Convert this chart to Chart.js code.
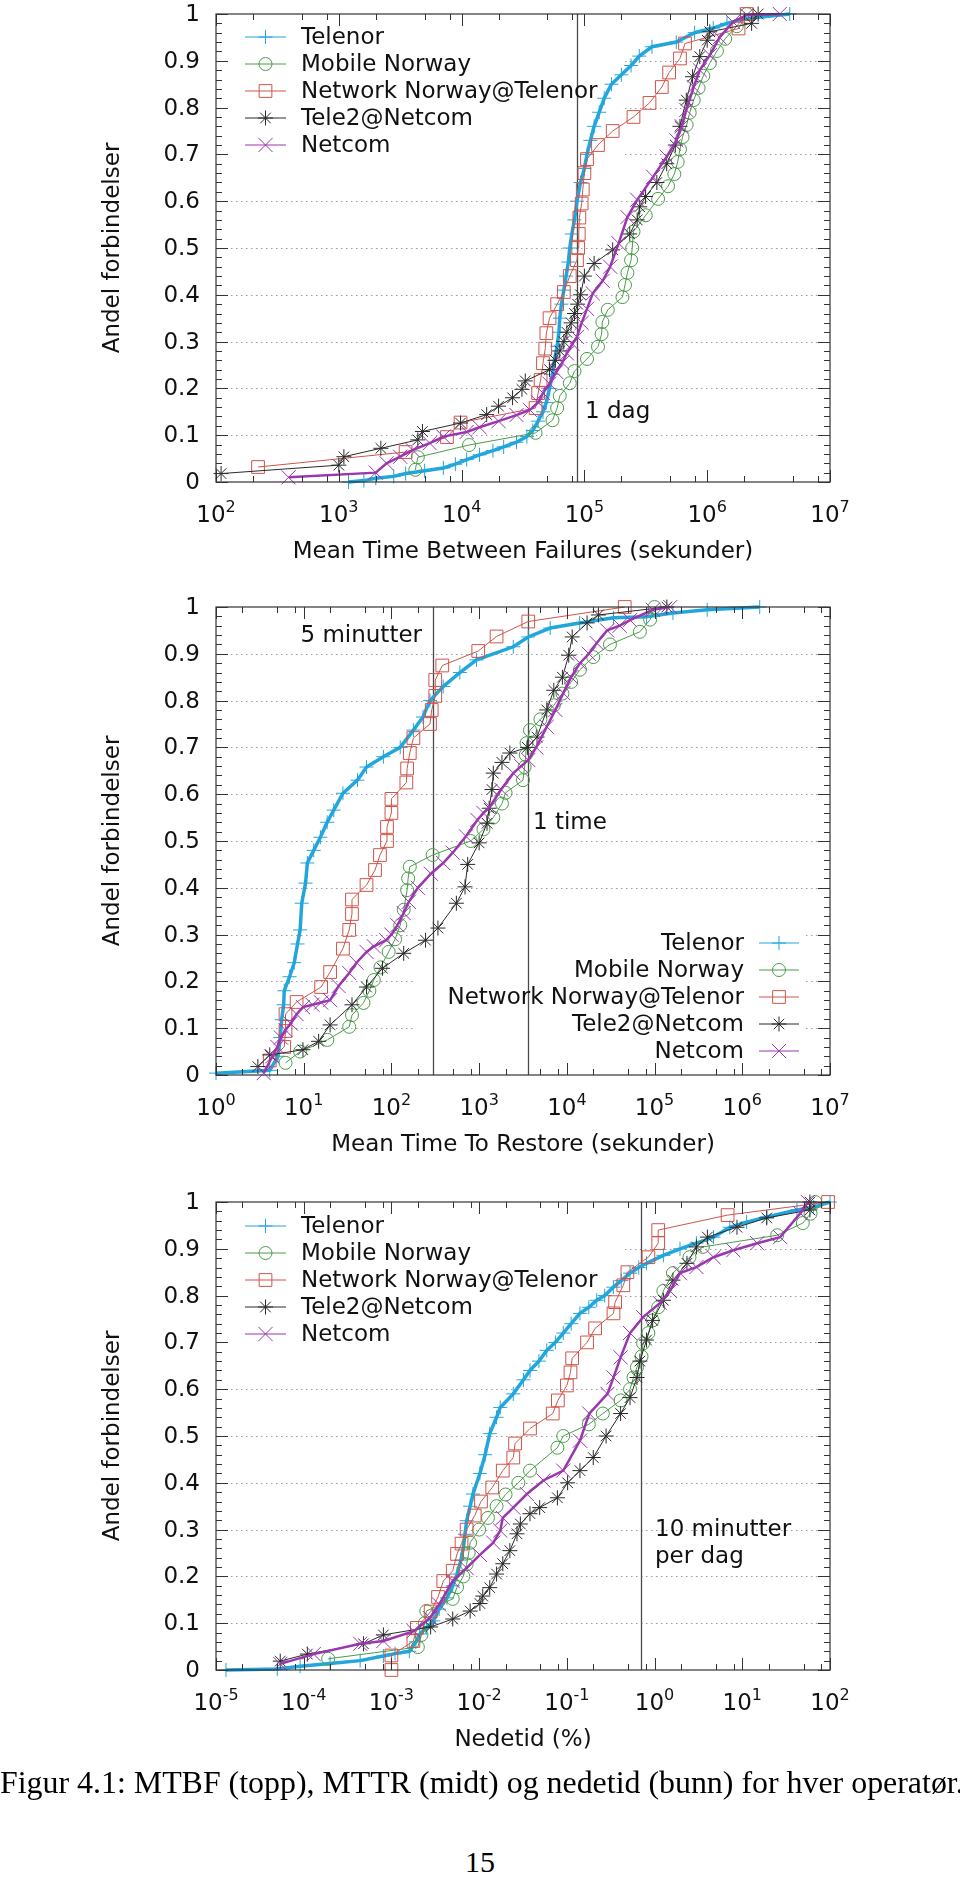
<!DOCTYPE html>
<html>
<head>
<meta charset="utf-8">
<script src="https://cdn.jsdelivr.net/npm/chart.js@4.4.1/dist/chart.umd.min.js"></script>
<style>
    body { margin: 0; background: #fff; width: 960px; height: 1877px; position: relative; overflow: hidden; }
    canvas { position: absolute; left: 0; }
    .caption, .pagenum {
        position: absolute; left: 0; width: 960px; text-align: center; white-space: nowrap;
        font-family: "Liberation Serif", "DejaVu Serif", serif; color: #000;
    }
    .caption { top: 1764px; font-size: 31.9px; line-height: 38px; }
    .pagenum { top: 1843px; font-size: 30px; line-height: 38px; }
</style>
</head>
<body>
<canvas id="mtbfChart" width="960" height="593" style="top:0"></canvas>
<canvas id="mttrChart" width="960" height="593" style="top:593px"></canvas>
<canvas id="downChart" width="960" height="593" style="top:1188px"></canvas>
<div class="caption">Figur 4.1: MTBF (topp), MTTR (midt) og nedetid (bunn) for hver operatør.</div>
<div class="pagenum">15</div>

<script>
/*=========================== data ===========================*/
// every series is an empirical CDF: [value, share of connections]
const seriesNames = ['Telenor', 'Mobile Norway', 'Network Norway@Telenor', 'Tele2@Netcom', 'Netcom'];

// MTBF (seconds)
const mtbfTelenor = [[1200,0],[1600,0.003],[2000,0.008],[2800,0.012],[3500,0.018],[5000,0.024],[7100,0.03],[8900,0.038],[11000,0.048],[14000,0.058],[18000,0.067],[22000,0.075],[28000,0.085],[34000,0.097],[38000,0.11],[42000,0.13],[46000,0.15],[49000,0.17],[52000,0.2],[55000,0.23],[57000,0.26],[60000,0.29],[62000,0.32],[63000,0.35],[65000,0.38],[68000,0.41],[71000,0.44],[74000,0.47],[76000,0.5],[79000,0.53],[83000,0.56],[87000,0.6],[93000,0.64],[100000,0.67],[105000,0.7],[112000,0.73],[120000,0.76],[132000,0.79],[145000,0.82],[166000,0.85],[200000,0.87],[240000,0.89],[280000,0.91],[355000,0.93],[560000,0.94],[790000,0.96],[1.12e6,0.97],[1.45e6,0.98],[2.0e6,0.99],[4.7e6,1]];
const mtbfMobileNorway = [[4200,0.026],[4400,0.053],[11500,0.079],[40000,0.105],[55000,0.132],[60000,0.158],[63000,0.184],[76000,0.211],[83000,0.237],[105000,0.263],[129000,0.289],[138000,0.316],[140000,0.342],[155000,0.368],[204000,0.395],[214000,0.421],[224000,0.447],[240000,0.474],[245000,0.5],[251000,0.535],[316000,0.57],[398000,0.605],[480000,0.632],[540000,0.658],[575000,0.684],[600000,0.711],[630000,0.737],[680000,0.763],[720000,0.789],[776000,0.816],[851000,0.842],[930000,0.868],[1.05e6,0.895],[1.2e6,0.921],[1.4e6,0.947],[1.74e6,0.974],[2.1e6,1]];
const mtbfNetworkNorway = [[220,0.032],[3500,0.064],[7600,0.096],[9800,0.127],[40000,0.158],[42000,0.19],[44000,0.218],[46000,0.254],[48000,0.285],[49000,0.318],[52000,0.35],[60000,0.38],[68000,0.406],[76000,0.44],[87000,0.474],[89000,0.5],[90000,0.53],[91000,0.565],[95000,0.595],[97000,0.625],[100000,0.66],[105000,0.69],[129000,0.72],[170000,0.75],[251000,0.78],[339000,0.81],[427000,0.844],[490000,0.875],[600000,0.905],[660000,0.937],[1.8e6,0.969],[2.1e6,1]];
const mtbfTele2 = [[110,0.018],[1000,0.036],[1100,0.054],[2200,0.072],[4400,0.09],[4800,0.108],[9800,0.126],[16000,0.144],[20000,0.162],[26000,0.18],[31000,0.198],[33000,0.216],[52000,0.24],[58000,0.26],[63000,0.28],[68000,0.3],[72000,0.32],[78000,0.34],[83000,0.36],[88000,0.38],[93000,0.4],[100000,0.44],[120000,0.467],[170000,0.496],[234000,0.53],[269000,0.56],[282000,0.588],[315000,0.61],[389000,0.64],[468000,0.68],[550000,0.72],[600000,0.76],[676000,0.816],[760000,0.866],[870000,0.909],[1.0e6,0.944],[1.05e6,0.962],[2.3e6,0.98],[2.6e6,1]];
const mtbfNetcom = [[390,0.01],[2000,0.02],[2450,0.04],[3160,0.054],[4000,0.068],[5500,0.083],[7100,0.097],[11000,0.107],[14000,0.117],[20000,0.13],[28000,0.143],[36000,0.154],[42000,0.17],[46000,0.19],[52000,0.21],[59000,0.235],[66000,0.255],[72000,0.275],[80000,0.295],[87000,0.31],[95000,0.34],[105000,0.37],[117000,0.403],[141000,0.43],[162000,0.46],[190000,0.51],[224000,0.566],[269000,0.603],[363000,0.652],[468000,0.695],[562000,0.73],[620000,0.76],[676000,0.795],[776000,0.844],[870000,0.88],[1.05e6,0.912],[1.26e6,0.95],[1.62e6,0.983],[2.1e6,0.998],[3.9e6,1]];

// MTTR (seconds)
const mttrTelenor = [[1,0.004],[4.1,0.01],[5.1,0.04],[5.4,0.08],[5.6,0.118],[5.9,0.15],[6.0,0.18],[6.9,0.21],[7.8,0.24],[8.5,0.28],[9.1,0.31],[9.5,0.367],[10.5,0.41],[11,0.453],[13,0.48],[15.5,0.508],[18.5,0.54],[22,0.566],[28,0.602],[41,0.63],[52,0.658],[81,0.68],[126,0.7],[178,0.737],[229,0.765],[275,0.8],[389,0.83],[603,0.86],[933,0.887],[2450,0.915],[3630,0.936],[6460,0.955],[14000,0.966],[34000,0.977],[81000,0.979],[162000,0.987],[398000,0.994],[1.58e6,1]];
const mttrMobileNorway = [[6.2,0.026],[9.1,0.05],[18.6,0.075],[33,0.103],[35.5,0.128],[48,0.154],[56,0.18],[63,0.203],[75,0.23],[93,0.263],[110,0.29],[126,0.32],[138,0.353],[151,0.395],[155,0.42],[162,0.445],[295,0.47],[800,0.5],[1120,0.525],[1450,0.55],[1820,0.58],[2000,0.603],[3160,0.63],[3300,0.658],[3400,0.684],[3470,0.709],[3800,0.737],[5000,0.76],[7100,0.79],[8900,0.815],[11200,0.84],[14100,0.866],[20000,0.893],[31000,0.92],[68000,0.947],[89000,0.973],[100000,1]];
const mttrNetworkNorway = [[4.1,0.031],[6.0,0.06],[6.2,0.094],[6.2,0.13],[8.3,0.156],[15.8,0.188],[20,0.22],[28,0.27],[33,0.31],[35.5,0.344],[35.5,0.375],[52,0.406],[65,0.438],[74,0.47],[89,0.5],[89,0.53],[100,0.56],[100,0.59],[148,0.625],[151,0.655],[162,0.688],[178,0.72],[275,0.75],[288,0.78],[316,0.81],[316,0.844],[380,0.875],[977,0.906],[1580,0.937],[3630,0.969],[45700,1]];
const mttrTele2 = [[3.0,0.018],[4.1,0.043],[9.8,0.054],[14.8,0.072],[20,0.107],[35.5,0.15],[52,0.188],[79,0.228],[138,0.26],[245,0.288],[339,0.314],[550,0.367],[690,0.402],[740,0.45],[1000,0.496],[1230,0.538],[1300,0.57],[1400,0.61],[1450,0.645],[1820,0.668],[2240,0.688],[3550,0.7],[4570,0.722],[5900,0.78],[7100,0.822],[8900,0.85],[10500,0.897],[11500,0.936],[17000,0.966],[22900,0.983],[138000,1]];
const mttrNetcom = [[3.5,0.004],[4.4,0.04],[5.0,0.06],[5.5,0.08],[6.2,0.096],[7.1,0.11],[8.3,0.13],[9.8,0.145],[12.6,0.15],[15.8,0.155],[20,0.16],[25,0.19],[33,0.218],[40,0.24],[52,0.263],[63,0.275],[87,0.288],[100,0.3],[117,0.32],[138,0.346],[158,0.37],[200,0.4],[282,0.43],[389,0.453],[500,0.475],[708,0.51],[955,0.545],[1120,0.56],[1320,0.573],[1780,0.61],[2450,0.645],[3020,0.66],[3630,0.673],[4470,0.7],[5900,0.744],[7400,0.78],[9100,0.816],[11200,0.85],[14100,0.88],[17800,0.9],[21900,0.923],[28800,0.95],[40000,0.96],[52500,0.972],[95500,0.994],[151000,1]];

// Nedetid (percent)
const downTelenor = [[1.3e-5,0],[5.0e-5,0.002],[9.1e-5,0.008],[2.0e-4,0.014],[4.4e-4,0.02],[8.1e-4,0.03],[1.1e-3,0.035],[1.6e-3,0.04],[1.9e-3,0.06],[2.1e-3,0.077],[2.5e-3,0.09],[3.0e-3,0.105],[3.5e-3,0.13],[4.3e-3,0.154],[5.0e-3,0.18],[5.6e-3,0.205],[6.2e-3,0.235],[6.6e-3,0.261],[6.9e-3,0.29],[7.2e-3,0.319],[7.9e-3,0.35],[8.5e-3,0.376],[1.02e-2,0.42],[1.17e-2,0.46],[1.32e-2,0.505],[1.58e-2,0.54],[1.74e-2,0.561],[2.45e-2,0.59],[3.2e-2,0.62],[3.8e-2,0.64],[4.8e-2,0.66],[5.9e-2,0.683],[7.4e-2,0.7],[9.1e-2,0.72],[0.112,0.74],[0.141,0.762],[0.178,0.775],[0.219,0.79],[0.27,0.8],[0.339,0.818],[0.417,0.832],[0.525,0.848],[0.66,0.86],[0.81,0.869],[1.26,0.886],[1.95,0.9],[3.0,0.912],[4.7,0.925],[7.2,0.946],[11.2,0.957],[19,0.968],[42,0.983],[65,0.989],[100,1]];
const downMobileNorway = [[1.9e-4,0.024],[2.0e-3,0.049],[2.2e-3,0.075],[2.4e-3,0.1],[2.5e-3,0.126],[5.0e-3,0.152],[5.6e-3,0.177],[6.6e-3,0.2],[7.2e-3,0.226],[7.6e-3,0.25],[7.9e-3,0.272],[0.01,0.3],[0.0126,0.325],[0.0158,0.35],[0.02,0.375],[0.028,0.4],[0.038,0.426],[0.078,0.475],[0.091,0.5],[0.178,0.525],[0.257,0.548],[0.41,0.576],[0.525,0.6],[0.575,0.625],[0.63,0.647],[0.71,0.67],[0.74,0.698],[0.85,0.72],[0.95,0.747],[1.1,0.775],[1.26,0.81],[1.62,0.848],[2.5,0.882],[3.55,0.904],[25,0.929],[49,0.955],[60,0.975],[68,1]];
const downNetworkNorway = [[1.0e-3,0],[1.0e-3,0.031],[1.78e-3,0.062],[1.95e-3,0.09],[2.8e-3,0.125],[3.4e-3,0.156],[3.9e-3,0.19],[5.0e-3,0.212],[5.6e-3,0.248],[6.3e-3,0.27],[7.2e-3,0.3],[8.9e-3,0.33],[1.05e-2,0.36],[1.41e-2,0.39],[1.86e-2,0.426],[2.45e-2,0.454],[2.57e-2,0.484],[3.8e-2,0.516],[6.9e-2,0.548],[7.9e-2,0.576],[0.1,0.608],[0.11,0.636],[0.115,0.666],[0.17,0.7],[0.21,0.73],[0.34,0.762],[0.355,0.786],[0.44,0.822],[0.49,0.85],[0.85,0.882],[1.1,0.912],[1.1,0.94],[6.8,0.972],[95,1]];
const downTele2 = [[5.4e-5,0.019],[1.1e-4,0.034],[4.8e-4,0.056],[8.1e-4,0.075],[2.8e-3,0.092],[5.0e-3,0.109],[7.9e-3,0.126],[1.02e-2,0.142],[1.1e-2,0.158],[1.32e-2,0.176],[1.58e-2,0.205],[1.86e-2,0.227],[2.24e-2,0.255],[2.7e-2,0.291],[2.95e-2,0.312],[3.8e-2,0.334],[4.9e-2,0.347],[7.8e-2,0.368],[0.102,0.4],[0.141,0.426],[0.2,0.454],[0.28,0.5],[0.41,0.548],[0.525,0.582],[0.63,0.625],[0.68,0.66],[0.81,0.705],[0.95,0.747],[1.26,0.79],[1.62,0.833],[2.34,0.869],[3.0,0.904],[4.0,0.925],[8.7,0.946],[19,0.966],[59,0.983],[59,1]];
const downNetcom = [[5.4e-5,0.013],[1.3e-4,0.034],[4.4e-4,0.056],[8.1e-4,0.062],[1.8e-3,0.083],[2.75e-3,0.111],[3.5e-3,0.14],[5.0e-3,0.19],[7.2e-3,0.218],[1.02e-2,0.246],[1.45e-2,0.272],[1.74e-2,0.298],[1.86e-2,0.325],[2.45e-2,0.347],[3.5e-2,0.376],[5.4e-2,0.405],[9.1e-2,0.426],[0.141,0.49],[0.18,0.548],[0.29,0.59],[0.34,0.625],[0.41,0.668],[0.525,0.72],[0.74,0.754],[1.15,0.784],[1.5,0.81],[1.95,0.848],[3.0,0.861],[4.7,0.882],[7.9,0.897],[14.8,0.912],[27,0.925],[46,0.976],[56,1]];

// axis ticks (decade exponents) and reference lines
const mtbfDecades = [2, 3, 4, 5, 6, 7];
const mttrDecades = [0, 1, 2, 3, 4, 5, 6, 7];
const downDecades = [-5, -4, -3, -2, -1, 0, 1, 2];
const minorMultiples = [2, 5, 8];
const yTickLabels = ['0', '0.1', '0.2', '0.3', '0.4', '0.5', '0.6', '0.7', '0.8', '0.9', '1'];
const oneDay = 86400;          // s
const fiveMinutes = 300;       // s
const oneHour = 3600;          // s
const tenMinPerDay = 0.694;    // %

/*=========================== styles ===========================*/
const seriesColors = ['#22a6dc', '#4a9c4a', '#d0544a', '#2a2a2a', '#9a36ae'];
const seriesMarkers = ['cross', 'circle', 'rect', 'star', 'crossRot'];
const markerRadius = [7, 6.5, 9, 7.5, 10];
// the dense series show up as a thick band in the original
const lineWidths = [3.5, 1, 1, 1, 2.5];
const FONT = '"DejaVu Sans", sans-serif';
const FONT_SIZE = 23;

function makeDatasets(series) {
    return series.map((pts, i) => ({
        label: seriesNames[i],
        data: pts.map(([x, y]) => ({ x, y })),
        borderColor: seriesColors[i],
        borderWidth: lineWidths[i],
        pointStyle: seriesMarkers[i],
        pointRadius: markerRadius[i],
        pointBorderColor: seriesColors[i],
        pointBackgroundColor: 'rgba(0,0,0,0)',
        pointBorderWidth: 1,
        tension: 0,
        clip: false,
        order: 4 - i   // later series drawn on top, like gnuplot
    }));
}

// gnuplot-like frame: inside ticks, dotted grid, key, labels
const gnuplotFrame = {
    id: 'gnuplotFrame',
    beforeDatasetsDraw(chart, args, o) {
        const { ctx, chartArea: a } = chart;
        const xs = chart.scales.x, ys = chart.scales.y;
        ctx.save();
        ctx.strokeStyle = '#9c9c9c';
        ctx.lineWidth = 1;
        ctx.setLineDash([1.5, 3.5]);
        for (let i = 1; i < yTickLabels.length - 1; i++) {
            const py = Math.round(ys.getPixelForValue(Number(yTickLabels[i]))) + 0.5;
            const k = o.keyBox;
            ctx.beginPath();
            if (k && py > k[1] && py < k[3]) {
                if (k[0] > a.left) { ctx.moveTo(a.left, py); ctx.lineTo(k[0], py); }
                if (k[2] < a.right) { ctx.moveTo(k[2], py); ctx.lineTo(a.right, py); }
            } else {
                ctx.moveTo(a.left, py); ctx.lineTo(a.right, py);
            }
            ctx.stroke();
        }
        ctx.setLineDash([]);
        ctx.strokeStyle = '#4a4a4a';
        ctx.lineWidth = 1.3;
        for (const v of o.markLines) {
            const px = Math.round(xs.getPixelForValue(v)) + 0.5;
            ctx.beginPath();
            ctx.moveTo(px, a.top);
            ctx.lineTo(px, a.bottom);
            ctx.stroke();
        }
        ctx.restore();
    },
    afterDatasetsDraw(chart, args, o) {
        const { ctx, chartArea: a } = chart;
        const xs = chart.scales.x, ys = chart.scales.y;
        const big = FONT_SIZE + 'px ' + FONT;
        const small = '16px ' + FONT;
        ctx.save();
        ctx.strokeStyle = '#333';
        ctx.lineWidth = 1.2;
        ctx.strokeRect(a.left, a.top, a.right - a.left, a.bottom - a.top);

        // y ticks, both sides
        ctx.lineWidth = 1;
        ctx.beginPath();
        for (let i = 0; i <= 50; i++) {
            const py = Math.round(ys.getPixelForValue(i / 50)) + 0.5;
            const len = i % 5 === 0 ? 12 : 6;
            ctx.moveTo(a.left, py); ctx.lineTo(a.left + len, py);
            ctx.moveTo(a.right, py); ctx.lineTo(a.right - len, py);
        }
        // x ticks, bottom and top
        const dec = o.decades;
        dec.forEach((d, i) => {
            const marks = [[Math.pow(10, d), 12]];
            if (i < dec.length - 1) {
                for (const m of minorMultiples) marks.push([m * Math.pow(10, d), 6]);
            }
            for (const [v, len] of marks) {
                const px = Math.round(xs.getPixelForValue(v)) + 0.5;
                ctx.moveTo(px, a.bottom); ctx.lineTo(px, a.bottom - len);
                ctx.moveTo(px, a.top); ctx.lineTo(px, a.top + len);
            }
        });
        ctx.stroke();

        ctx.fillStyle = '#111';
        // y tick labels
        ctx.font = big;
        ctx.textAlign = 'right';
        ctx.textBaseline = 'middle';
        yTickLabels.forEach((t, i) => {
            ctx.fillText(t, a.left - 16, ys.getPixelForValue(i / 10) + 1);
        });
        // x tick labels as 10^n
        ctx.textAlign = 'left';
        ctx.textBaseline = 'alphabetic';
        for (const d of dec) {
            const px = xs.getPixelForValue(Math.pow(10, d));
            ctx.font = big;
            const w1 = ctx.measureText('10').width;
            ctx.font = small;
            const w2 = ctx.measureText(String(d)).width;
            const x0 = px - (w1 + w2) / 2;
            ctx.font = big;
            ctx.fillText('10', x0, a.bottom + 40);
            ctx.font = small;
            ctx.fillText(String(d), x0 + w1, a.bottom + 30);
        }
        // axis titles
        ctx.font = big;
        ctx.textAlign = 'center';
        ctx.fillText(o.xTitle, (a.left + a.right) / 2, a.bottom + 76);
        ctx.save();
        ctx.translate(113, (a.top + a.bottom) / 2);
        ctx.rotate(-Math.PI / 2);
        ctx.textBaseline = 'middle';
        ctx.fillText('Andel forbindelser', 0, 0);
        ctx.restore();

        // notes next to the reference lines
        ctx.textBaseline = 'middle';
        for (const n of o.notes) {
            ctx.textAlign = n.align;
            ctx.fillText(n.text, n.x, n.y);
        }

        // key
        const k = o.key;
        chart.data.datasets.forEach((ds, i) => {
            const y = k.top + i * k.step;
            ctx.strokeStyle = ds.borderColor;
            ctx.lineWidth = 1;
            ctx.beginPath();
            ctx.moveTo(k.lineFrom, y);
            ctx.lineTo(k.lineTo, y);
            ctx.stroke();
            ctx.fillStyle = 'rgba(0,0,0,0)';
            Chart.helpers.drawPoint(ctx, {
                pointStyle: ds.pointStyle, radius: ds.pointRadius, rotation: 0, borderWidth: 1
            }, (k.lineFrom + k.lineTo) / 2, y);
            ctx.fillStyle = '#111';
            ctx.textAlign = k.align;
            ctx.fillText(ds.label, k.textX, y + 1);
        });
        ctx.restore();
    }
};

function makeChart(id, series, xMin, xMax, frameOpts) {
    return new Chart(document.getElementById(id), {
        type: 'line',
        data: { datasets: makeDatasets(series) },
        options: {
            responsive: false,
            animation: false,
            devicePixelRatio: 1,
            events: [],
            layout: { padding: { left: 216, right: 130, top: 14, bottom: 111 } },
            scales: {
                x: { type: 'logarithmic', min: xMin, max: xMax, display: false },
                y: { type: 'linear', min: 0, max: 1, display: false }
            },
            plugins: {
                legend: { display: false },
                tooltip: { enabled: false },
                gnuplotFrame: frameOpts
            }
        },
        plugins: [gnuplotFrame]
    });
}

/*=========================== charts ===========================*/
const topKey = { lineFrom: 245, lineTo: 286, textX: 301, align: 'left', top: 37, step: 27 };

makeChart('mtbfChart',
    [mtbfTelenor, mtbfMobileNorway, mtbfNetworkNorway, mtbfTele2, mtbfNetcom],
    1e2, 1e7, {
        decades: mtbfDecades,
        xTitle: 'Mean Time Between Failures (sekunder)',
        markLines: [oneDay],
        keyBox: [216, 14, 625, 166],
        key: topKey,
        notes: [{ text: '1 dag', x: 585, y: 412, align: 'left' }]
    });

makeChart('mttrChart',
    [mttrTelenor, mttrMobileNorway, mttrNetworkNorway, mttrTele2, mttrNetcom],
    1e0, 1e7, {
        decades: mttrDecades,
        xTitle: 'Mean Time To Restore (sekunder)',
        markLines: [fiveMinutes, oneHour],
        keyBox: [416, 330, 806, 482],
        key: { lineFrom: 759, lineTo: 799, textX: 744, align: 'right', top: 350, step: 27 },
        notes: [
            { text: '5 minutter', x: 422, y: 43, align: 'right' },
            { text: '1 time', x: 533, y: 230, align: 'left' }
        ]
    });

makeChart('downChart',
    [downTelenor, downMobileNorway, downNetworkNorway, downTele2, downNetcom],
    1e-5, 1e2, {
        decades: downDecades,
        xTitle: 'Nedetid (%)',
        markLines: [tenMinPerDay],
        keyBox: [216, 14, 625, 166],
        key: { ...topKey, top: 38 },
        notes: [
            { text: '10 minutter', x: 655, y: 342, align: 'left' },
            { text: 'per dag', x: 655, y: 369, align: 'left' }
        ]
    });
</script>
</body>
</html>
